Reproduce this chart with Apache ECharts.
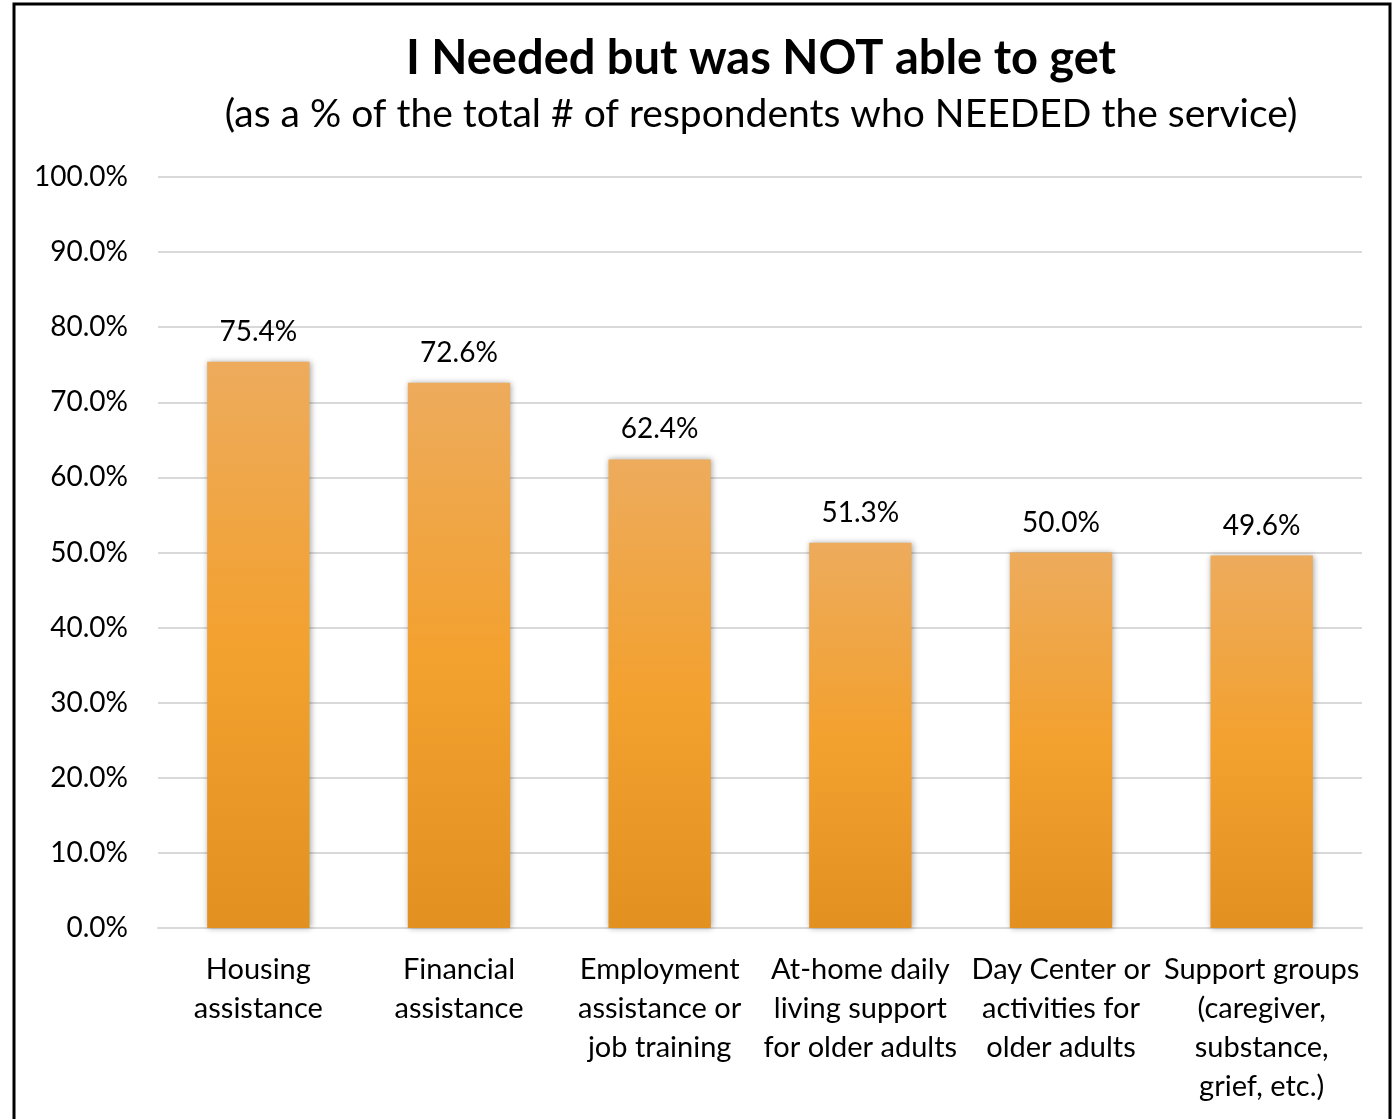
<!DOCTYPE html>
<html>
<head>
<meta charset="utf-8">
<script src="https://cdn.jsdelivr.net/npm/echarts@6/dist/echarts.min.js"></script>
<style>
html,body{margin:0;padding:0;background:#fff;}
#chart{width:1398px;height:1119px;}
</style>
</head>
<body>
<div id="chart"></div>
<script>
const categories = [
  'Housing\nassistance',
  'Financial\nassistance',
  'Employment\nassistance or\njob training',
  'At-home daily\nliving support\nfor older adults',
  'Day Center or\nactivities for\nolder adults',
  'Support groups\n(caregiver,\nsubstance,\ngrief, etc.)'
];
const values = [75.4, 72.6, 62.4, 51.3, 50.0, 49.6];
const titleText = 'I Needed but was NOT able to get';
const subtitleText = '(as a % of the total # of respondents who NEEDED the service)';

const FONT = 'Lato, "Open Sans", sans-serif';
const chart = echarts.init(document.getElementById('chart'), null, {renderer: 'canvas'});
chart.setOption({
  animation: false,
  backgroundColor: '#fff',
  textStyle: {fontFamily: FONT},
  title: [
    {text: titleText, left: 761, top: 35, textAlign: 'center', padding: 0,
     textStyle: {fontFamily: FONT, fontWeight: 'bold', fontSize: 47, color: '#000'}},
    {text: subtitleText, left: 761, top: 95, textAlign: 'center', padding: 0,
     textStyle: {fontFamily: FONT, fontWeight: 'normal', fontSize: 39, color: '#000'}}
  ],
  graphic: [{
    type: 'rect', silent: true,
    shape: {x: 14, y: 4, width: 1376, height: 1140},
    style: {fill: 'none', stroke: '#000', lineWidth: 3}
  }],
  grid: {left: 158, right: 36, top: 177, bottom: 191, containLabel: false},
  xAxis: {
    type: 'category',
    data: categories,
    axisLine: {show: true, lineStyle: {color: '#d9d9d9', width: 2}},
    axisTick: {show: false},
    axisLabel: {interval: 0, color: '#000', fontSize: 29, lineHeight: 39, margin: 22, fontFamily: FONT}
  },
  yAxis: {
    type: 'value', min: 0, max: 100, interval: 10,
    axisLine: {show: false}, axisTick: {show: false},
    splitLine: {lineStyle: {color: '#d9d9d9', width: 2}},
    axisLabel: {formatter: v => v.toFixed(1) + '%', color: '#000', fontSize: 28, margin: 30, fontFamily: FONT}
  },
  series: [{
    type: 'bar',
    data: values,
    barWidth: '51%',
    itemStyle: {
      color: new echarts.graphic.LinearGradient(0, 0, 0, 1, [
        {offset: 0, color: '#EDAB5C'},
        {offset: 0.5, color: '#F3A12F'},
        {offset: 1, color: '#E29121'}
      ]),
      shadowColor: 'rgba(0,0,0,0.35)', shadowBlur: 6, shadowOffsetX: 1, shadowOffsetY: 0
    },
    label: {show: true, position: 'top', distance: 16, formatter: p => p.value.toFixed(1) + '%',
            color: '#000', fontSize: 28, fontFamily: FONT}
  }]
});
</script>
</body>
</html>
